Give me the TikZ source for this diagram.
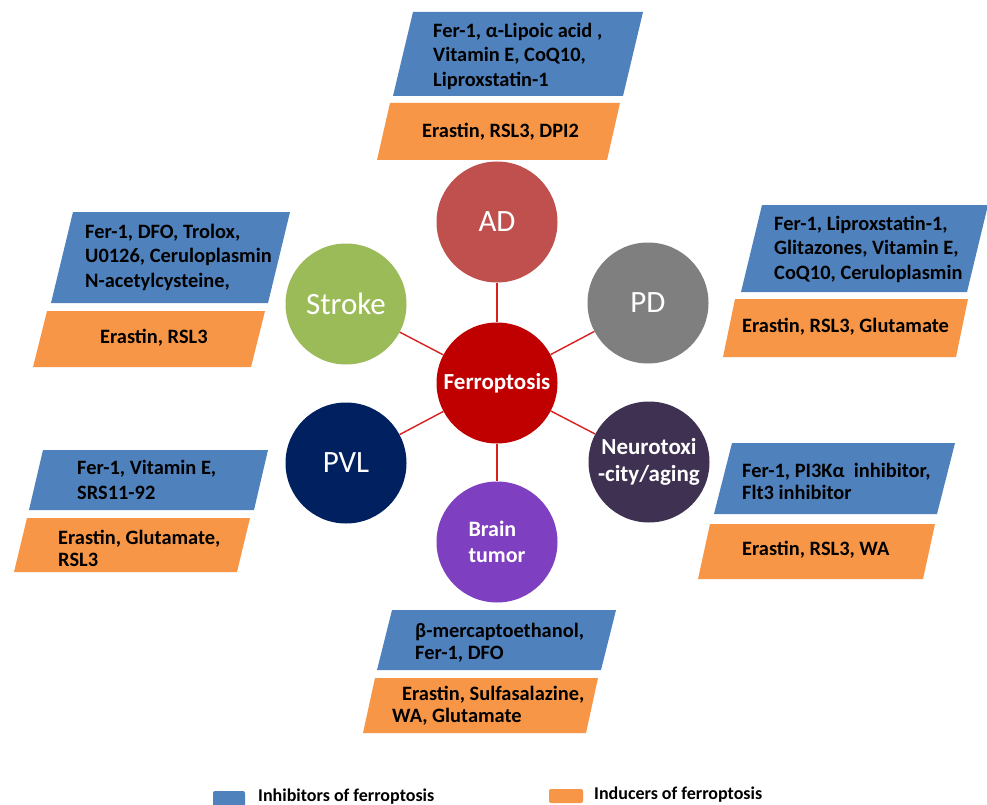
\documentclass[tikz,border=0pt]{standalone}
\usepackage{fontspec}
\setmainfont{Carlito}
\definecolor{inhblue}{HTML}{4F81BD}
\definecolor{indorange}{HTML}{F79646}
\definecolor{adcol}{HTML}{C0504D}
\definecolor{pdcol}{HTML}{7F7F7F}
\definecolor{strokecol}{HTML}{9BBB59}
\definecolor{pvlcol}{HTML}{002060}
\definecolor{neurocol}{HTML}{3F3151}
\definecolor{braincol}{HTML}{7E40C0}
\definecolor{ferrocol}{HTML}{C00000}
\definecolor{linkred}{HTML}{DA1F1F}
\newcommand{\pgram}[6]{\fill[#1] (#4,#2) -- (#5,#2) -- ({#5-#6},#3) -- ({#4-#6},#3) -- cycle;}
\begin{document}
\begin{tikzpicture}[x=1pt,y=-1pt,
  disease/.style={circle, minimum size=121pt, inner sep=0pt, text=white, font=\fontsize{31}{36}\selectfont},
  diseasebold/.style={circle, minimum size=121pt, inner sep=0pt, text=white, font=\fontsize{23}{27}\selectfont\bfseries},
  boxtext/.style={anchor=west, align=left, inner sep=0pt, text=black, font=\fontsize{20.4}{24.5}\selectfont\bfseries},
  link/.style={draw=linkred, line width=1.4pt},
  inhib/.style={fill=inhblue},
  induc/.style={fill=indorange},
  legendtext/.style={anchor=west, inner sep=0pt, text=black, font=\fontsize{18}{21}\selectfont\bfseries}]
\useasboundingbox (0,0) rectangle (987,805);
\fill[white] (0,0) rectangle (987,805);

% parallelograms
\pgram{inhib}{12}{96}{413}{643}{20}
\pgram{induc}{103}{160}{390}{620}{13}
\pgram{inhib}{212}{303}{73}{290}{22}
\pgram{induc}{311}{367}{47}{265}{14}
\pgram{inhib}{205}{292}{762}{988}{21}
\pgram{induc}{299}{357}{735}{968}{12}
\pgram{inhib}{450}{510}{43}{268}{14}
\pgram{induc}{518}{572}{27}{250}{13}
\pgram{inhib}{443}{514}{732}{955}{18}
\pgram{induc}{524}{579}{710}{935}{12}
\pgram{inhib}{610}{670}{392}{616}{15}
\pgram{induc}{678}{733}{375}{598}{12}

% box texts
\node[boxtext] (adI) at (433,56) {Fer-1, α-Lipoic acid ,\\Vitamin E, CoQ10,\\Liproxstatin-1};
\node[boxtext] (adE) at (422,132) {Erastin, RSL3, DPI2};
\node[boxtext] (stI) at (85,257) {Fer-1, DFO, Trolox,\\U0126, Ceruloplasmin\\N-acetylcysteine,};
\node[boxtext] (stE) at (100,338) {Erastin, RSL3};
\node[boxtext] (pdI) at (774,249) {Fer-1, Liproxstatin-1,\\Glitazones, Vitamin E,\\CoQ10, Ceruloplasmin};
\node[boxtext] (pdE) at (742,327) {Erastin, RSL3, Glutamate};
\node[boxtext, font=\fontsize{20.4}{25}\selectfont\bfseries] (pvI) at (77,480) {Fer-1, Vitamin E,\\SRS11-92};
\node[boxtext, font=\fontsize{20.4}{22}\selectfont\bfseries] (pvE) at (58,548) {Erastin, Glutamate,\\RSL3};
\node[boxtext, font=\fontsize{20.4}{22}\selectfont\bfseries] (neI) at (742,481) {Fer-1, PI3Kα\ \ inhibitor,\\Flt3 inhibitor};
\node[boxtext] (neE) at (742,550) {Erastin, RSL3, WA};
\node[boxtext, font=\fontsize{20.4}{22}\selectfont\bfseries] (brI) at (415,643) {β-mercaptoethanol,\\Fer-1, DFO};
\node[boxtext, font=\fontsize{20.4}{22}\selectfont\bfseries] (brE) at (392,706) {\hspace*{10pt}Erastin, Sulfasalazine,\\WA, Glutamate};

% circles
\node[diseasebold, fill=ferrocol] (fer) at (497,383) {Ferroptosis};
\node[disease, fill=adcol] (ad) at (497,222) {AD};
\node[disease, fill=pdcol] (pd) at (648,303) {PD};
\node[disease, fill=strokecol] (stroke) at (346,304) {Stroke};
\node[disease, fill=pvlcol] (pvl) at (346,463) {PVL};
\node[diseasebold, fill=neurocol, align=center] (neuro) at (649,462) {Neurotoxi\\-city/aging};
\node[diseasebold, fill=braincol, align=left, font=\fontsize{22}{26}\selectfont\bfseries] (brain) at (497,542) {Brain\\tumor};

% connectors
\draw[link] (fer) -- (ad);
\draw[link] (fer) -- (pd);
\draw[link] (fer) -- (stroke);
\draw[link] (fer) -- (pvl);
\draw[link] (fer) -- (neuro);
\draw[link] (fer) -- (brain);

% legend
\fill[inhib, rounded corners=2pt] (213,791) rectangle (245,807);
\node[legendtext] (legI) at (258,797) {Inhibitors of ferroptosis};
\fill[induc, rounded corners=2pt] (549,789) rectangle (583,803);
\node[legendtext] (legE) at (594,795) {Inducers of ferroptosis};
\end{tikzpicture}
\end{document}
